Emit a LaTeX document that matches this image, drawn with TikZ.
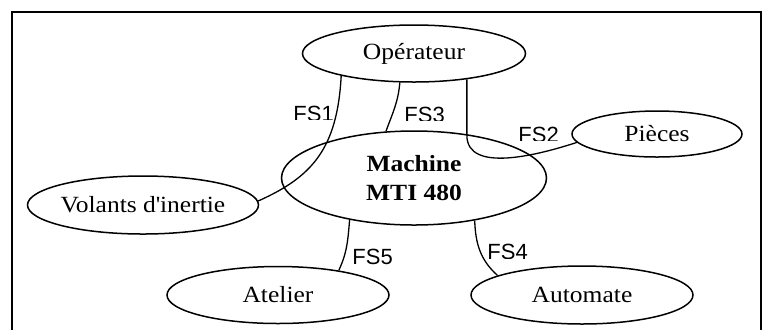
\documentclass[tikz,border=0pt]{standalone}
\usepackage{fontspec}
\setmainfont[FakeStretch=1.1]{Liberation Serif}
\newfontfamily\fslabelfont{Liberation Sans}
\usetikzlibrary{shapes.geometric}

\tikzset{
  entity/.style={draw,ellipse,line width=0.75pt,inner xsep=-60pt,inner ysep=0pt,
    font=\fontsize{11.6}{14.5}\selectfont},
  link/.style={line width=0.65pt},
  fslabel/.style={anchor=north west,inner sep=0pt,
    font=\fslabelfont\fontsize{11}{13}\selectfont}
}

\begin{document}
\begin{tikzpicture}[x=0.5pt,y=0.5pt]
  \clip (0,0) rectangle (768,-329);
  % frame, open at the bottom of the page
  \draw[line width=1pt] (12,-340) -- (12,-12) -- (761,-12) -- (761,-340);

  % environment of the machine
  \node[entity,minimum width=111.5pt,minimum height=28.5pt] (oper) at (414,-53.5) {Opérateur};
  \node[entity,minimum width=85pt,minimum height=23pt] (pieces) at (657,-134) {Pièces};
  \node[entity,minimum width=132.5pt,minimum height=47pt,align=center,
        font=\fontsize{11.6}{14.5}\selectfont\bfseries] (machine) at (414,-178) {Machine\\MTI 480};
  \node[entity,minimum width=115.5pt,minimum height=29pt] (volants) at (143,-205) {Volants d\textquotesingle inertie};
  \node[entity,minimum width=111pt,minimum height=28.5pt] (atelier) at (278,-295) {Atelier};
  \node[entity,minimum width=111pt,minimum height=29pt] (automate) at (582,-295) {Automate};

  % service functions
  \draw[link] (oper.197) to[out=267,in=24,out looseness=1.25] (volants.2);
  \draw[link] (oper.244) to[out=265,in=70] (machine.121);
  \draw[link] (oper.334) -- ++(0,-56) to[out=270,in=198,looseness=0.9] (pieces.186);
  \draw[link] (machine.213) to[out=265,in=65] (atelier.22);
  \draw[link] (machine.325) to[out=272,in=138] (automate.167);

  % labels, cut at their foot as printed
  \begin{scope}
    \clip (290,-100) rectangle (340,-119);
    \node[fslabel] (fs1) at (293,-106) {FS1};
  \end{scope}
  \begin{scope}
    \clip (400,-100) rectangle (455,-120);
    \node[fslabel] (fs3) at (404,-107) {FS3};
  \end{scope}
  \begin{scope}
    \clip (514,-120) rectangle (570,-140);
    \node[fslabel] (fs2) at (518,-127) {FS2};
  \end{scope}
  \begin{scope}
    \clip (348,-242) rectangle (400,-264);
    \node[fslabel] (fs5) at (352,-249) {FS5};
  \end{scope}
  \begin{scope}
    \clip (483,-238) rectangle (537,-258);
    \node[fslabel] (fs4) at (487,-244) {FS4};
  \end{scope}
\end{tikzpicture}
\end{document}
